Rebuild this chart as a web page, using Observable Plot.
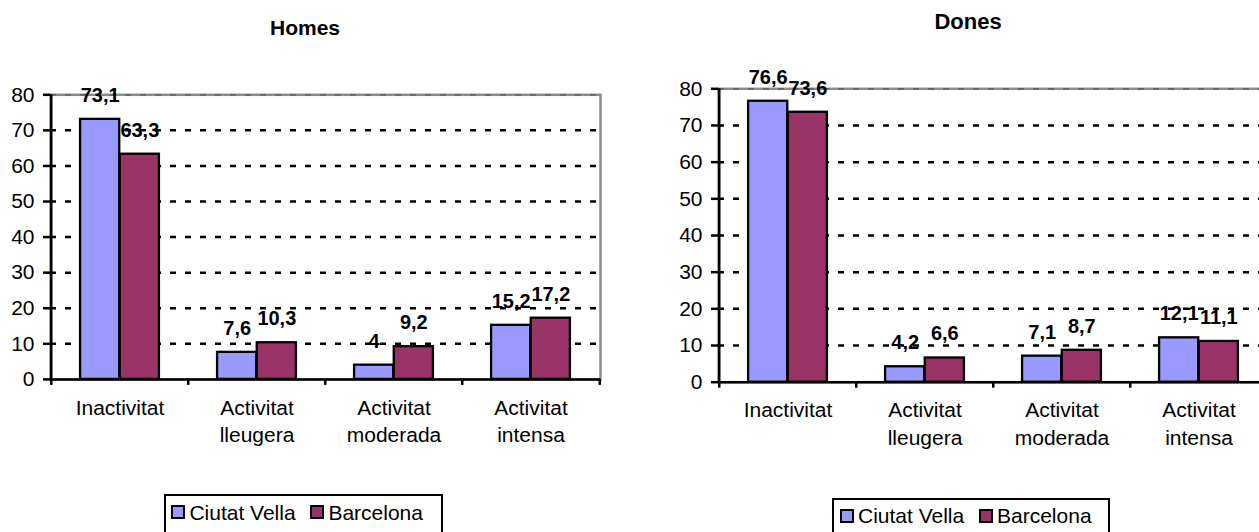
<!DOCTYPE html>
<html>
<head>
<meta charset="utf-8">
<script src="https://cdn.jsdelivr.net/npm/d3@7"></script>
<script src="https://cdn.jsdelivr.net/npm/@observablehq/plot@0.6"></script>
<style>
  html, body { margin: 0; padding: 0; background: #fff; overflow: hidden; width: 1259px; height: 532px; }
  body { position: relative; font-family: "Liberation Sans", Arial, sans-serif; color: #000; }
  .chart { position: absolute; top: 0; width: 620px; }
  .chart svg { overflow: visible; max-width: none !important; }
  .title { position: absolute; font-weight: bold; line-height: 1; white-space: nowrap; transform: translateX(-50%); }
  .legend { position: absolute; height: 60px; border: 2px solid #000; box-sizing: border-box; background: #fff;
            padding: 5.5px 0 0 5.7px; display: flex; align-items: flex-start; }
  .legend .row { display: flex; align-items: center; height: 21px; }
  .legend .sw { width: 14px; height: 14px; border: 2px solid #000; box-sizing: border-box; margin-right: 4px; }
  .legend .lab { font-size: 21px; line-height: 21px; white-space: nowrap; margin-right: 14.8px; }
</style>
</head>
<body>
<script>
// Physical activity level by sex: Ciutat Vella compared with Barcelona (%)
const categories = ["Inactivitat", "Activitat lleugera", "Activitat moderada", "Activitat intensa"];
const categoryLabels = ["Inactivitat", "Activitat\nlleugera", "Activitat\nmoderada", "Activitat\nintensa"];
const series = ["Ciutat Vella", "Barcelona"];
const seriesColors = ["#9999ff", "#993366"];
const homesCiutatVella = [73.1, 7.6, 4, 15.2];
const homesBarcelona = [63.3, 10.3, 9.2, 17.2];
const donesCiutatVella = [76.6, 4.2, 7.1, 12.1];
const donesBarcelona = [73.6, 6.6, 8.7, 11.1];
const yTicks = [0, 10, 20, 30, 40, 50, 60, 70, 80];

const FONT = '"Liberation Sans", Arial, sans-serif';
const fmt = v => String(v).replace(".", ",");

function barChart(cv, bcn, {marginTop, plotHeight}) {
  const width = 620, marginLeft = 50, marginRight = 20, marginBottom = 78;
  const bw = (width - marginLeft - marginRight) / categories.length; // category band
  const group = bw * 0.577;            // both bars of a category
  const barW = group / 2;
  const pad = (bw - group) / 2;
  const rowsCV = categories.map((c, i) => ({category: c, series: series[0], value: cv[i]}));
  const rowsB = categories.map((c, i) => ({category: c, series: series[1], value: bcn[i]}));
  const dash = "6,9";
  const labelOpts = {x: "category", y: "value", text: d => fmt(d.value), fontWeight: "bold",
                     fontSize: 20, lineAnchor: "middle", dy: -24, fill: "#000"};
  return Plot.plot({
    width,
    height: marginTop + plotHeight + marginBottom,
    marginTop, marginLeft, marginRight, marginBottom,
    style: {fontFamily: FONT, fontSize: "21px", background: "transparent", color: "#000"},
    x: {type: "band", domain: categories, padding: 0, axis: null},
    y: {domain: [0, 80]},
    marks: [
      // plot-area border (gray, top and right)
      Plot.frame({stroke: "#8c8c8c", strokeWidth: 2.5}),
      Plot.ruleY([80], {stroke: "#555", strokeWidth: 1.2, strokeDasharray: dash}),
      // dashed major gridlines
      Plot.ruleY(yTicks.filter(t => t > 0 && t < 80), {stroke: "#000", strokeWidth: 2.5, strokeDasharray: dash}),
      // grouped bars
      Plot.barY(rowsCV, {x: "category", y: "value", fill: seriesColors[0], stroke: "#000", strokeWidth: 2.3,
                         insetLeft: pad, insetRight: bw - pad - barW}),
      Plot.barY(rowsB, {x: "category", y: "value", fill: seriesColors[1], stroke: "#000", strokeWidth: 2.3,
                        insetLeft: pad + barW, insetRight: pad}),
      // axis lines
      Plot.ruleY([0], {stroke: "#000", strokeWidth: 2.5}),
      Plot.ruleX([categories[0]], {x: d => d, y1: 0, y2: 80, dx: -bw / 2, stroke: "#000", strokeWidth: 2.5}),
      // category boundary ticks
      Plot.ruleX(categories, {x: d => d, y1: 0, y2: 0, insetBottom: -6, dx: -bw / 2, stroke: "#000", strokeWidth: 2.5}),
      Plot.ruleX([categories[categories.length - 1]], {x: d => d, y1: 0, y2: 0, insetBottom: -6, dx: bw / 2, stroke: "#000", strokeWidth: 2.5}),
      // y axis
      Plot.axisY({ticks: yTicks, tickSize: 7, tickPadding: 9, fontSize: 21, stroke: "#000", strokeWidth: 2.5, fill: "#000", label: null}),
      // category labels
      Plot.text(categories, {x: d => d, text: (d, i) => categoryLabels[i], frameAnchor: "bottom", lineAnchor: "top",
                             dy: 16, fontSize: 21, lineHeight: 1.29, fill: "#000"}),
      // value labels
      Plot.text(rowsCV, {...labelOpts, dx: -(bw / 2 - pad - barW / 2)}),
      Plot.text(rowsB, {...labelOpts, dx: (bw / 2 - pad - barW / 2)})
    ]
  });
}

function place(el, left, top) {
  const wrap = document.createElement("div");
  wrap.className = "chart";
  wrap.style.left = left + "px";
  wrap.style.top = top + "px";
  wrap.appendChild(el);
  document.body.appendChild(wrap);
}

function title(text, centerX, top, size) {
  const d = document.createElement("div");
  d.className = "title";
  d.textContent = text;
  d.style.left = centerX + "px";
  d.style.top = top + "px";
  d.style.fontSize = size + "px";
  document.body.appendChild(d);
}

function legend(left, top, width) {
  const box = document.createElement("div");
  box.className = "legend";
  box.style.left = left + "px";
  box.style.top = top + "px";
  box.style.width = width + "px";
  const row = document.createElement("div");
  row.className = "row";
  series.forEach((s, i) => {
    const sw = document.createElement("span");
    sw.className = "sw";
    sw.style.background = seriesColors[i];
    const lab = document.createElement("span");
    lab.className = "lab";
    lab.textContent = s;
    row.appendChild(sw);
    row.appendChild(lab);
  });
  box.appendChild(row);
  document.body.appendChild(box);
}

place(barChart(homesCiutatVella, homesBarcelona, {marginTop: 94.3, plotHeight: 284.6}), 0, 0);
place(barChart(donesCiutatVella, donesBarcelona, {marginTop: 88.3, plotHeight: 293.4}), 668.3, 0);

title("Homes", 305, 17.2, 21);
title("Dones", 968, 10.7, 22);

legend(163.7, 494.3, 279);
legend(832.3, 497.7, 278);
</script>
</body>
</html>
